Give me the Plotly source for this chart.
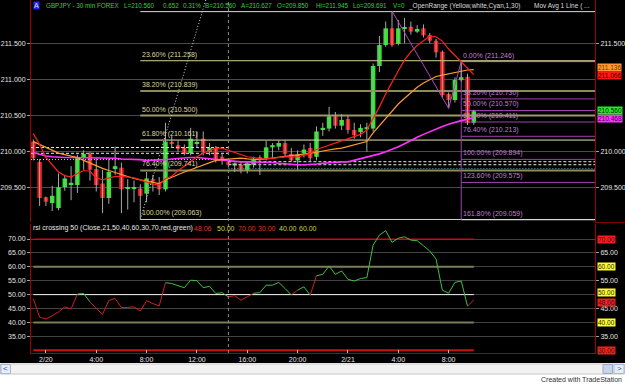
import pandas as pd
import plotly.graph_objects as go

# ---------------- data ----------------
bar_start = "2008-02-19 23:00"          # first 30-min bar shown
opens = [210.14, 209.86, 209.37, 209.29, 209.22, 209.51, 209.54, 209.54, 209.92, 209.97,
         209.76, 209.56, 209.36, 209.76, 209.78, 209.49, 209.49, 209.49, 209.42, 209.62,
         209.56, 209.48, 210.13, 210.09, 210.05, 209.98, 210.12, 210.18, 210.00, 210.05,
         209.93, 209.86, 209.81, 209.82, 209.74, 209.82, 209.89, 209.91, 210.06, 210.07,
         210.12, 209.97, 209.88, 209.98, 210.05, 209.93, 210.30, 210.32, 210.49, 210.36,
         210.45, 210.30, 210.27, 210.31, 210.32, 211.185, 211.475, 211.706, 211.49, 211.70,
         211.729, 211.66, 211.706, 211.614, 211.535, 211.383, 210.798, 210.715, 210.99, 211.037,
         210.40]
highs = [210.17, 209.90, 209.38, 209.53, 209.70, 209.68, 209.80, 209.96, 210.02, 210.00,
         209.92, 209.75, 209.90, 210.07, 209.85, 209.62, 209.60, 209.55, 209.72, 209.68,
         209.65, 210.40, 210.22, 210.15, 210.10, 210.33, 210.28, 210.28, 210.12, 210.08,
         209.98, 209.87, 209.85, 209.86, 209.86, 209.93, 209.95, 210.15, 210.12, 210.16,
         210.16, 210.05, 210.02, 210.10, 210.12, 210.35, 210.40, 210.62, 210.55, 210.52,
         210.50, 210.40, 210.38, 210.40, 211.22, 211.60, 211.80, 211.945, 211.82, 211.85,
         211.80, 211.75, 211.76, 211.64, 211.56, 211.40, 210.82, 211.03, 211.246, 211.08,
         210.58]
lows = [209.88, 209.25, 209.25, 209.18, 209.19, 209.46, 209.33, 209.43, 209.75, 209.60,
        209.45, 209.15, 209.28, 209.68, 209.15, 209.20, 209.30, 209.063, 209.30, 209.45,
        209.40, 209.45, 210.05, 210.00, 209.95, 209.95, 210.05, 209.95, 209.95, 209.85,
        209.82, 209.78, 209.72, 209.70, 209.70, 209.78, 209.68, 209.88, 209.92, 210.02,
        209.93, 209.86, 209.75, 209.92, 209.86, 209.88, 210.22, 210.28, 210.32, 210.30,
        210.25, 210.18, 210.20, 210.00, 210.28, 211.10, 211.45, 211.45, 211.47, 211.50,
        211.62, 211.64, 211.58, 211.50, 211.30, 210.75, 210.60, 210.68, 210.97, 210.37,
        210.37]
closes = [209.91, 209.36, 209.31, 209.39, 209.51, 209.63, 209.57, 209.92, 209.97, 209.75,
          209.54, 209.36, 209.72, 209.80, 209.48, 209.50, 209.50, 209.39, 209.63, 209.59,
          209.48, 210.14, 210.11, 210.04, 209.97, 210.18, 210.13, 210.00, 210.05, 209.89,
          209.88, 209.82, 209.84, 209.75, 209.84, 209.89, 209.92, 210.06, 210.09, 210.12,
          209.97, 209.88, 209.96, 210.03, 209.91, 210.28, 210.33, 210.49, 210.36, 210.44,
          210.30, 210.23, 210.33, 210.34, 211.185, 211.475, 211.706, 211.475, 211.706, 211.71,
          211.66, 211.697, 211.61, 211.535, 211.374, 210.784, 210.715, 210.992, 211.03, 210.393,
          210.56]
ma_red = [210.25, 210.10, 209.92, 209.82, 209.72, 209.67, 209.65, 209.70, 209.74, 209.73,
          209.64, 209.61, 209.63, 209.66, 209.66, 209.65, 209.64, 209.61, 209.58, 209.55,
          209.54, 209.63, 209.66, 209.74, 209.80, 209.87, 209.93, 209.98, 210.02, 210.05,
          210.05, 210.02, 209.99, 209.96, 209.93, 209.92, 209.90, 209.90, 209.91, 209.93,
          209.93, 209.93, 209.93, 209.95, 209.98, 210.03, 210.06, 210.09, 210.12, 210.14,
          210.17, 210.20, 210.24, 210.30, 210.45, 210.62, 210.80, 210.97, 211.12, 211.27,
          211.38, 211.47, 211.54, 211.60, 211.59, 211.53, 211.42, 211.33, 211.24, 211.16,
          211.066]
ma_orange = [210.14, 210.10, 210.06, 210.02, 209.98, 209.96, 209.94, 209.92, 209.88, 209.84,
             209.80, 209.77, 209.74, 209.71, 209.69, 209.66, 209.63, 209.61, 209.59, 209.57,
             209.56, 209.61, 209.65, 209.69, 209.72, 209.75, 209.78, 209.82, 209.85, 209.88,
             209.89, 209.90, 209.91, 209.91, 209.90, 209.89, 209.89, 209.90, 209.91, 209.92,
             209.93, 209.94, 209.95, 209.96, 209.97, 209.99, 210.01, 210.03, 210.04, 210.05,
             210.07, 210.09, 210.11, 210.14, 210.26, 210.36, 210.46, 210.56, 210.66, 210.74,
             210.82, 210.89, 210.95, 211.00, 211.04, 211.06, 211.08, 211.10, 211.12, 211.13,
             211.136]
ma_magenta = [209.99, 209.96, 209.94, 209.93, 209.92, 209.92, 209.92, 209.92, 209.92, 209.92,
              209.92, 209.92, 209.91, 209.91, 209.90, 209.90, 209.89, 209.89, 209.88, 209.88,
              209.88, 209.89, 209.90, 209.91, 209.92, 209.92, 209.92, 209.91, 209.90, 209.89,
              209.88, 209.87, 209.86, 209.86, 209.86, 209.86, 209.86, 209.85, 209.85, 209.84,
              209.83, 209.82, 209.82, 209.82, 209.82, 209.83, 209.84, 209.85, 209.85, 209.86,
              209.86, 209.88, 209.90, 209.92, 209.94, 209.97, 210.00, 210.03, 210.07, 210.11,
              210.16, 210.20, 210.24, 210.28, 210.32, 210.35, 210.38, 210.41, 210.43, 210.45,
              210.468]
rsi = [48.5, 41.9, 41.2, 42.4, 43.8, 45.6, 44.8, 50.2, 50.4, 47.4,
       45.0, 42.9, 47.9, 48.6, 45.3, 45.4, 45.6, 44.1, 47.8, 46.8,
       45.9, 54.3, 54.0, 53.2, 52.5, 55.2, 55.0, 52.5, 53.0, 50.4,
       50.7, 49.2, 49.6, 48.0, 49.2, 50.5, 50.7, 53.4, 53.4, 54.4,
       52.2, 49.9, 51.6, 52.8, 49.8, 56.8, 57.3, 60.3, 57.3, 58.5,
       55.5, 54.9, 55.8, 56.1, 67.8, 71.4, 73.0, 68.8, 70.3, 70.8,
       69.6, 69.4, 67.6, 65.7, 62.8, 51.6, 50.5, 54.4, 54.9, 45.9,
       48.06]

tick_times = ["2008-02-20 00:00", "2008-02-20 04:00", "2008-02-20 08:00", "2008-02-20 12:00",
              "2008-02-20 16:00", "2008-02-20 20:00", "2008-02-21 00:00", "2008-02-21 04:00",
              "2008-02-21 08:00"]
tick_labels = ["2/20", "4:00", "8:00", "12:00", "16:00", "20:00", "2/21", "4:00", "8:00"]
price_ticks = [209.5, 210.0, 210.5, 211.0, 211.5]
price_right_ticks = [209.5, 210.0, 211.5]      # 210.5 / 211.0 sit under the value tags
rsi_ticks = [35, 40, 45, 50, 55, 60, 65, 70]
rsi_right_ticks = [35, 45, 55, 65]
rsi_levels = [70, 60, 50, 40, 30]

fib_left_start = "2008-02-20 07:30"
fib_left_names = ["0.00%", "23.60%", "38.20%", "50.00%", "61.80%", "76.40%", "100.00%"]
fib_left_values = [211.937, 211.258, 210.839, 210.500, 210.161, 209.741, 209.063]
fib_right_start = "2008-02-21 09:00"
fib_right_names = ["0.00%", "38.20%", "50.00%", "61.80%", "76.40%", "100.00%", "123.60%", "161.80%"]
fib_right_values = [211.246, 210.730, 210.570, 210.411, 210.213, 209.894, 209.575, 209.059]
swing_times = ["2008-02-21 03:30", "2008-02-21 08:00", "2008-02-21 09:00"]
swing_values = [211.945, 210.600, 211.246]
trend_times = ["2008-02-20 07:30", "2008-02-20 12:42"]
trend_values = [209.063, 212.098]
session_break = "2008-02-20 14:30"
open_range_before = [210.058, 209.978, 209.892]
open_range_after = [209.862, 209.820, 209.768]

status_items = ["GBPJPY - 30 min FOREX", "L=210.560", "0.652", "0.31%", "B=210.560",
                "A=210.627", "O=209.850", "Hi=211.945", "Lo=209.691", "V=0"]
study_items = ["_OpenRange (Yellow,white,Cyan,1,30)", "Mov Avg 1 Line ( ..."]
rsi_title = "rsi crossing 50 (Close,21,50,40,60,30,70,red,green)"
rsi_status_values = [48.06, 50.00, 70.00, 30.00, 40.00, 60.00]

# ---------------- layout helpers ----------------
W, H = 625, 384
PL, PR, PT, PB = 31, 595, 0, 353
def px_x(px):
    return (px - PL) / (PR - PL)
def px_y(py):
    return (PB - py) / (PB - PT)

FONT = "Liberation Sans, Arial, sans-serif"
UP, DOWN = "#22ee22", "#ee1a1a"

t = pd.date_range(bar_start, periods=len(closes), freq="30min")
step = pd.Timedelta(minutes=30)
fmt = lambda ts: pd.Timestamp(ts).strftime("%Y-%m-%d %H:%M:%S")
x_left = fmt(t[0] - 0.37 * step)
x_right = fmt(t[0] + 89.26 * step)
tx = [fmt(v) for v in t]

fig = go.Figure()

def line(x, y, color, width=1, dash=None, xa="x", ya="y"):
    fig.add_trace(go.Scatter(x=x, y=y, mode="lines", xaxis=xa, yaxis=ya,
                             line=dict(color=color, width=width, dash=dash),
                             hoverinfo="skip", showlegend=False))

# opening range lines
or_styles = [("#e6e6e6", "3px,2px"), ("#e6e6e6", "3px,2px"), ("#c8c8c8", "1px,2px")]
for v, (c, d) in zip(open_range_before, or_styles):
    line([x_left, session_break], [v, v], c, 1, d)
or_styles2 = [("#e6e6e6", "3px,2px"), ("#e6e6e6", "3px,2px"), ("#3fb0b0", "1px,2px")]
for v, (c, d) in zip(open_range_after, or_styles2):
    line([session_break, x_right], [v, v], c, 1, d)

# left fibonacci
fib_left_colors = ["#d8d8d8", "#d4d49a", "#8c8c5a", "#9a9a66", "#e6e6b0", "#8c8c5a", "#d0d0d0"]
fib_left_widths = [1, 1, 2, 2, 1, 2, 1]
for v, c, w in zip(fib_left_values, fib_left_colors, fib_left_widths):
    line([fib_left_start, x_right], [v, v], c, w)
# right fibonacci
fib_right_colors = ["#d08a9a", "#a040b0", "#a040b0", "#a040b0", "#a040b0", "#a040b0", "#a040b0", "#d8d8d8"]
for v, c in zip(fib_right_values, fib_right_colors):
    line([fib_right_start, x_right], [v, v], c, 1)
line([fib_right_start, fib_right_start], [fib_right_values[0], fib_right_values[-1]], "#a040b0", 1)

# wicks
wx, wy = [], []
for ti, h, l in zip(tx, highs, lows):
    wx += [ti, ti, None]
    wy += [l, h, None]
fig.add_trace(go.Scatter(x=wx, y=wy, mode="lines", line=dict(color="#a8a8a8", width=1),
                         hoverinfo="skip", showlegend=False))
# bodies
base = [min(o, c) for o, c in zip(opens, closes)]
hgt = [max(abs(c - o), 0.012) for o, c in zip(opens, closes)]
cols = [UP if c >= o else DOWN for o, c in zip(opens, closes)]
fig.add_trace(go.Bar(x=tx, y=hgt, base=base, width=0.72 * 30 * 60 * 1000,
                     marker=dict(color=cols, line=dict(width=0)),
                     hoverinfo="skip", showlegend=False))

# moving averages
line(tx, ma_magenta, "#ff33ff", 1.6)
line(tx, ma_orange, "#ff9a30", 1.2)
line(tx, ma_red, "#ff2020", 1.2)

# swing zigzag and trend line
line(swing_times, swing_values, "#b048c0", 1)
line(trend_times, trend_values, "#d8d8d8", 1, "1px,2px")

# RSI levels
level_styles = {70: ("#d01010", 1), 60: ("#7c7c58", 2), 50: ("#f0f0f0", 1),
                40: ("#7c7c58", 2), 30: ("#d01010", 2)}
for lv in rsi_levels:
    c, w = level_styles[lv]
    line([tx[0], tx[-1]], [lv, lv], c, w, None, "x2", "y2")

# RSI line coloured by side of 50
seg = {"g": ([], []), "r": ([], [])}
for k in range(1, len(rsi)):
    key = "g" if rsi[k - 1] > 50 else "r"
    seg[key][0].extend([tx[k - 1], tx[k], None])
    seg[key][1].extend([rsi[k - 1], rsi[k], None])
line(seg["r"][0], seg["r"][1], "#d02020", 1, None, "x2", "y2")
line(seg["g"][0], seg["g"][1], "#40c040", 1, None, "x2", "y2")

# invisible traces for the right-side axes
fig.add_trace(go.Scatter(x=[tx[0]], y=[210], yaxis="y3", mode="markers",
                         marker=dict(opacity=0), hoverinfo="skip", showlegend=False))
fig.add_trace(go.Scatter(x=[tx[0]], y=[50], xaxis="x2", yaxis="y4", mode="markers",
                         marker=dict(opacity=0), hoverinfo="skip", showlegend=False))

tickfont = dict(family=FONT, size=7, color="#e4e4e4")
price_range = [209.028, 212.098]
rsi_range = [29.0, 75.4]
fig.update_layout(
    width=W, height=H, margin=dict(l=PL, r=W - PR, t=PT, b=H - PB),
    paper_bgcolor="black", plot_bgcolor="black", showlegend=False,
    barmode="overlay", hovermode=False,
    xaxis=dict(domain=[0, 1], anchor="y", type="date", range=[x_left, x_right],
               showticklabels=False, showgrid=False, zeroline=False, ticks=""),
    yaxis=dict(domain=[0.3711, 1], range=price_range, tickvals=price_ticks,
               ticktext=[f"{v:.3f}" for v in price_ticks], tickfont=tickfont,
               showgrid=True, gridcolor="#4a4a4a", gridwidth=1, zeroline=False,
               ticks="outside", ticklen=3, tickcolor="#a0a0a0",
               showline=True, linecolor="#a00000", linewidth=1, mirror=True),
    yaxis3=dict(overlaying="y", side="right", anchor="x", range=price_range,
                tickvals=price_right_ticks, ticktext=[f"{v:.3f}" for v in price_right_ticks],
                tickfont=tickfont, showgrid=False, zeroline=False,
                ticks="outside", ticklen=3, tickcolor="#a0a0a0", showline=False),
    xaxis2=dict(domain=[0, 1], anchor="y2", type="date", range=[x_left, x_right],
                tickvals=tick_times, ticktext=tick_labels, tickfont=tickfont,
                showgrid=False, zeroline=False, ticks="inside", ticklen=3,
                tickcolor="#c0c0c0", showline=True, linecolor="#a00000", linewidth=1),
    yaxis2=dict(domain=[0, 0.3654], range=rsi_range, tickvals=rsi_ticks,
                ticktext=[f"{v:.2f}" for v in rsi_ticks], tickfont=tickfont,
                showgrid=True, gridcolor="#424242", zeroline=False,
                ticks="outside", ticklen=3, tickcolor="#a0a0a0",
                showline=True, linecolor="#a00000", linewidth=1, mirror=True),
    yaxis4=dict(overlaying="y2", side="right", anchor="x2", range=rsi_range,
                tickvals=rsi_right_ticks, ticktext=[f"{v:.2f}" for v in rsi_right_ticks],
                tickfont=tickfont, showgrid=False, zeroline=False,
                ticks="outside", ticklen=3, tickcolor="#a0a0a0", showline=False),
)

ann = []
def text(x, y, s, color, size=7, xref="paper", yref="paper", xanchor="left",
         yanchor="middle", bg=None, xshift=0, yshift=0):
    ann.append(dict(x=x, y=y, xref=xref, yref=yref, text=s, showarrow=False,
                    xanchor=xanchor, yanchor=yanchor, xshift=xshift, yshift=yshift,
                    font=dict(family=FONT, size=size, color=color),
                    bgcolor=bg, borderpad=0))

# fib labels
for name, v in list(zip(fib_left_names, fib_left_values))[1:]:
    text(fib_left_start, v, f"{name} ({v:.3f})", "#d8d8a0", xref="x", yref="y",
         yanchor="bottom", xshift=1, yshift=1)
for name, v in zip(fib_right_names, fib_right_values):
    text(fib_right_start, v, f"{name} ({v:.3f})", "#c07cd0", xref="x", yref="y",
         yanchor="bottom", xshift=1, yshift=1)

# right-side value tags (price); close pairs nudged apart so the texts stay legible
price_tags = [(ma_orange[-1], "#ff9933", "#803000", 2), (ma_red[-1], "#ff1a1a", "#400000", -1),
              (ma_magenta[-1], "#ff33ff", "#400040", -1), (closes[-1], "#22ee22", "#002000", 1)]
for v, bg, fc, ys in price_tags:
    text(1, v, f"{v:.3f}", fc, size=6.5, xref="paper", yref="y", bg=bg, xshift=2, yshift=ys)
# right-side value tags (rsi)
rsi_tags = [(70, "#ff1a1a", 0), (60, "#ffff20", 0), (50, "#ffff20", 2), (rsi[-1], "#ff1a1a", -2),
            (40, "#ffff20", 0), (30, "#ff1a1a", 0)]
for v, bg, ys in rsi_tags:
    text(1, v, f"{v:.2f}", "#202020", size=6.5, xref="paper", yref="y2", bg=bg, xshift=2, yshift=ys)

# status line
text(px_x(33), px_y(6), "A", "#e0e0ff", bg="#2424f0")
status_x = [45, 123, 162, 182, 204, 240, 276, 315, 352, 392]
for s, xp in zip(status_items, status_x):
    text(px_x(xp), px_y(6), s, "#3ccc3c", size=6.3)
study_x = [407, 533]
for s, xp in zip(study_items, study_x):
    text(px_x(xp), px_y(6), s, "#dcdcdc", size=6.5)

# rsi status line
text(px_x(32), px_y(228), rsi_title, "#e8e8e8")
rsi_status_x = [193, 216, 237, 257, 278, 298]
rsi_status_colors = ["#e03030", "#d0d050", "#e03030", "#e03030", "#d0d050", "#d0d050"]
for v, xp, c in zip(rsi_status_values, rsi_status_x, rsi_status_colors):
    text(px_x(xp), px_y(228), f"{v:.2f}", c)

# footer
text(px_x(623), px_y(379.5), "Created with TradeStation", "#303030", xanchor="right")
text(px_x(5.5), px_y(369), "&lt;", "#3050b0", size=8, xanchor="center")
text(px_x(619), px_y(369), "&gt;", "#3050b0", size=8, xanchor="center")
fig.update_layout(annotations=ann)

shapes = [
    dict(type="line", xref="x", yref="paper", x0=session_break, x1=session_break, y0=0, y1=1,
         line=dict(color="#8c8c8c", width=1, dash="3px,3px"), layer="above"),
    dict(type="line", xref="paper", yref="paper", x0=1, x1=px_x(W), y0=px_y(222.5), y1=px_y(222.5),
         line=dict(color="#800000", width=1)),
    dict(type="rect", xref="paper", yref="paper", x0=px_x(0), x1=px_x(W), y0=px_y(H), y1=px_y(363),
         fillcolor="white", line=dict(width=0)),
    dict(type="rect", xref="paper", yref="paper", x0=px_x(0.5), x1=px_x(624.5), y0=px_y(374), y1=px_y(364),
         fillcolor="#f2f2f2", line=dict(color="#c8c8c8", width=1)),
    dict(type="rect", xref="paper", yref="paper", x0=px_x(1), x1=px_x(10.5), y0=px_y(373.5), y1=px_y(364.5),
         fillcolor="#e8eef8", line=dict(color="#a8b8d8", width=1)),
    dict(type="rect", xref="paper", yref="paper", x0=px_x(603), x1=px_x(612.5), y0=px_y(373.5), y1=px_y(364.5),
         fillcolor="#c8d4ec", line=dict(color="#98a8c8", width=1)),
    dict(type="rect", xref="paper", yref="paper", x0=px_x(614), x1=px_x(624), y0=px_y(373.5), y1=px_y(364.5),
         fillcolor="#e8eef8", line=dict(color="#a8b8d8", width=1)),
]
fig.update_layout(shapes=shapes)

fig.write_html("out.html")
